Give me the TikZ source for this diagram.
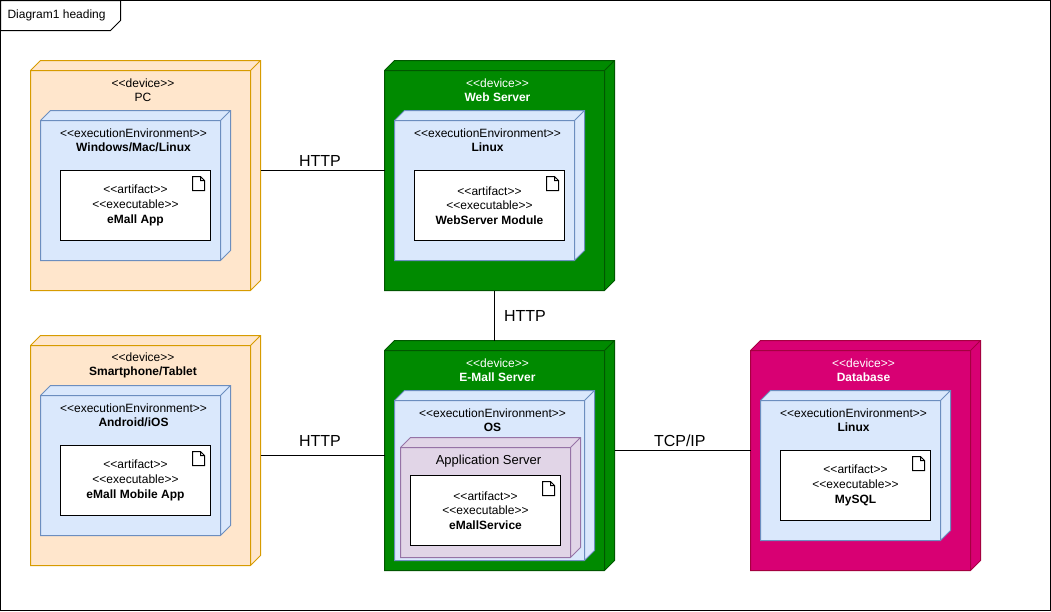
\documentclass[tikz,border=0pt]{standalone}
\usepackage{fontspec}
\setmainfont[Ligatures=TeXOff]{Liberation Sans}
\usetikzlibrary{fit}
\definecolor{orangefill}{HTML}{FFE6CC}\definecolor{orangeline}{HTML}{D79B00}
\definecolor{bluefill}{HTML}{DAE8FC}\definecolor{blueline}{HTML}{6C8EBF}
\definecolor{purplefill}{HTML}{E1D5E7}\definecolor{purpleline}{HTML}{9673A6}
\definecolor{greenfill}{HTML}{008A00}\definecolor{greenline}{HTML}{005700}
\definecolor{magfill}{HTML}{D80073}\definecolor{magline}{HTML}{A50040}
\tikzset{
  cubebound/.style={inner sep=0pt,outer sep=0pt},
  stereo/.style={font=\fontsize{12}{14}\selectfont,align=center,inner sep=0pt,anchor=center},
  artbox/.style={draw=black,fill=white,inner sep=0pt,outer sep=0pt,minimum width=150pt,minimum height=70pt,align=center,font=\fontsize{12}{14.7}\selectfont},
  wire/.style={draw=black,line width=1pt},
  wirelabel/.style={font=\fontsize{16}{18}\selectfont,inner sep=0pt},
}
\newcommand{\docicon}[1]{%
  \draw[black,fill=white,line join=miter] ([xshift=-18pt,yshift=-6pt]#1.north east) -- ++(8,0) -- ++(4,-4) -- ++(0,-10) -- ++(-12,0) -- cycle
   ([xshift=-10pt,yshift=-6pt]#1.north east) -- ++(0,-4) -- ++(4,0);}
\newcommand{\cube}[7]{% name,l,t,r,b,fill,stroke
  \fill[#6] (#2,-#3) -- ++(10,10) -- (#4+10,-#3+10) -- (#4+10,-#5+10) -- (#4,-#5) -- (#2,-#5) -- cycle;
  \draw[#7,line join=miter] (#2,-#3) -- ++(10,10) -- (#4+10,-#3+10) -- (#4+10,-#5+10) -- (#4,-#5) -- (#2,-#5) -- cycle
     (#2,-#3) -- (#4,-#3) -- (#4+10,-#3+10) (#4,-#3) -- (#4,-#5);
  \coordinate (#1-sw) at (#2,-#5); \coordinate (#1-ne) at (#4+10,-#3+10);
  \node[cubebound,fit=(#1-sw)(#1-ne)] (#1) {};
}
\begin{document}
\begin{tikzpicture}[x=1pt,y=1pt,line width=1pt]
\useasboundingbox (0,0) rectangle (1051,-611);
\node[draw=black,line width=1pt,inner sep=0pt,outer sep=0pt,minimum width=1050pt,minimum height=610pt] (frame) at (525.5,-305.5) {};
\fill[white] (0.5,-0.5) -- (120.5,-0.5) -- (120.5,-20.5) -- (110.5,-30.5) -- (0.5,-30.5) -- cycle;
\draw[black,line join=miter] (0.5,-0.5) -- (120.5,-0.5) -- (120.5,-20.5) -- (110.5,-30.5) -- (0.5,-30.5) -- cycle;
\node[font=\fontsize{12}{14}\selectfont,anchor=west,inner sep=0pt] (heading) at (7,-15.5) {Diagram1 heading};

% PC
\cube{pc}{30.5}{70.5}{250.5}{290.5}{orangefill}{orangeline}
\node[stereo] (pctxt) at (143,-90.3) {<<device>>\\PC};
\cube{pcenv}{40.5}{120.5}{220.5}{260.5}{bluefill}{blueline}
\node[stereo] (pcenvtxt) at (133.5,-140.3) {<<executionEnvironment>>\\\textbf{Windows/Mac/Linux}};
\node[artbox] (pcart) at (135.5,-205.5) {<<artifact>>\\<<executable>>\\\textbf{eMall App}};
\docicon{pcart}

% Web server
\cube{web}{384.5}{70.5}{604.5}{290.5}{greenfill}{greenline}
\node[stereo,text=white] (webtxt) at (497.5,-90.3) {<<device>>\\\textbf{Web Server}};
\cube{webenv}{394.5}{120.5}{574.5}{260.5}{bluefill}{blueline}
\node[stereo] (webenvtxt) at (487.5,-140.3) {<<executionEnvironment>>\\\textbf{Linux}};
\node[artbox] (webart) at (489.5,-205.5) {<<artifact>>\\<<executable>>\\\textbf{WebServer Module}};
\docicon{webart}

% Smartphone
\cube{phone}{30.5}{345.5}{250.5}{565.5}{orangefill}{orangeline}
\node[stereo] (phonetxt) at (143,-365.3) {<<device>>\\\textbf{Smartphone/Tablet}};
\cube{phoneenv}{40.5}{395.5}{220.5}{535.5}{bluefill}{blueline}
\node[stereo] (phoneenvtxt) at (133.5,-415.3) {<<executionEnvironment>>\\\textbf{Android/iOS}};
\node[artbox] (phoneart) at (135.5,-480.5) {<<artifact>>\\<<executable>>\\\textbf{eMall Mobile App}};
\docicon{phoneart}

% E-Mall server
\cube{mall}{384.5}{350.5}{604.5}{570.5}{greenfill}{greenline}
\node[stereo,text=white] (malltxt) at (497.5,-370.3) {<<device>>\\\textbf{E-Mall Server}};
\cube{mallenv}{394.5}{400.5}{584.5}{560.5}{bluefill}{blueline}
\node[stereo] (mallenvtxt) at (492.5,-420.3) {<<executionEnvironment>>\\\textbf{OS}};
\cube{appsrv}{400.5}{447.5}{570.5}{557.5}{purplefill}{purpleline}
\node[stereo,font=\fontsize{13}{15}\selectfont] (appsrvtxt) at (488.5,-460.8) {Application Server};
\node[artbox] (mallart) at (485.5,-510.5) {<<artifact>>\\<<executable>>\\\textbf{eMallService}};
\docicon{mallart}

% Database
\cube{db}{750.5}{350.5}{970.5}{570.5}{magfill}{magline}
\node[stereo,text=white] (dbtxt) at (863.5,-370.3) {<<device>>\\\textbf{Database}};
\cube{dbenv}{760.5}{400.5}{940.5}{540.5}{bluefill}{blueline}
\node[stereo] (dbenvtxt) at (853.5,-420.3) {<<executionEnvironment>>\\\textbf{Linux}};
\node[artbox] (dbart) at (855.5,-485.5) {<<artifact>>\\<<executable>>\\\textbf{MySQL}};
\docicon{dbart}

% Connectors
\draw[wire] ([yshift=5pt]pc.east) -- node[wirelabel,pos=0.48,yshift=10pt] {HTTP} ([yshift=5pt]web.west);
\draw[wire] ([xshift=-5pt]web.south) -- ([xshift=-5pt]mall.north);
\node[wirelabel] (httpb) at (525,-316) {HTTP};
\draw[wire] ([yshift=-5pt]phone.east) -- node[wirelabel,pos=0.48,yshift=15pt] {HTTP} ([yshift=-5pt]phone.east -| mall.west);
\draw[wire] ([yshift=5pt]mall.east) -- node[wirelabel,pos=0.48,yshift=10pt] {TCP/IP} ([yshift=5pt]db.west);
\end{tikzpicture}
\end{document}
